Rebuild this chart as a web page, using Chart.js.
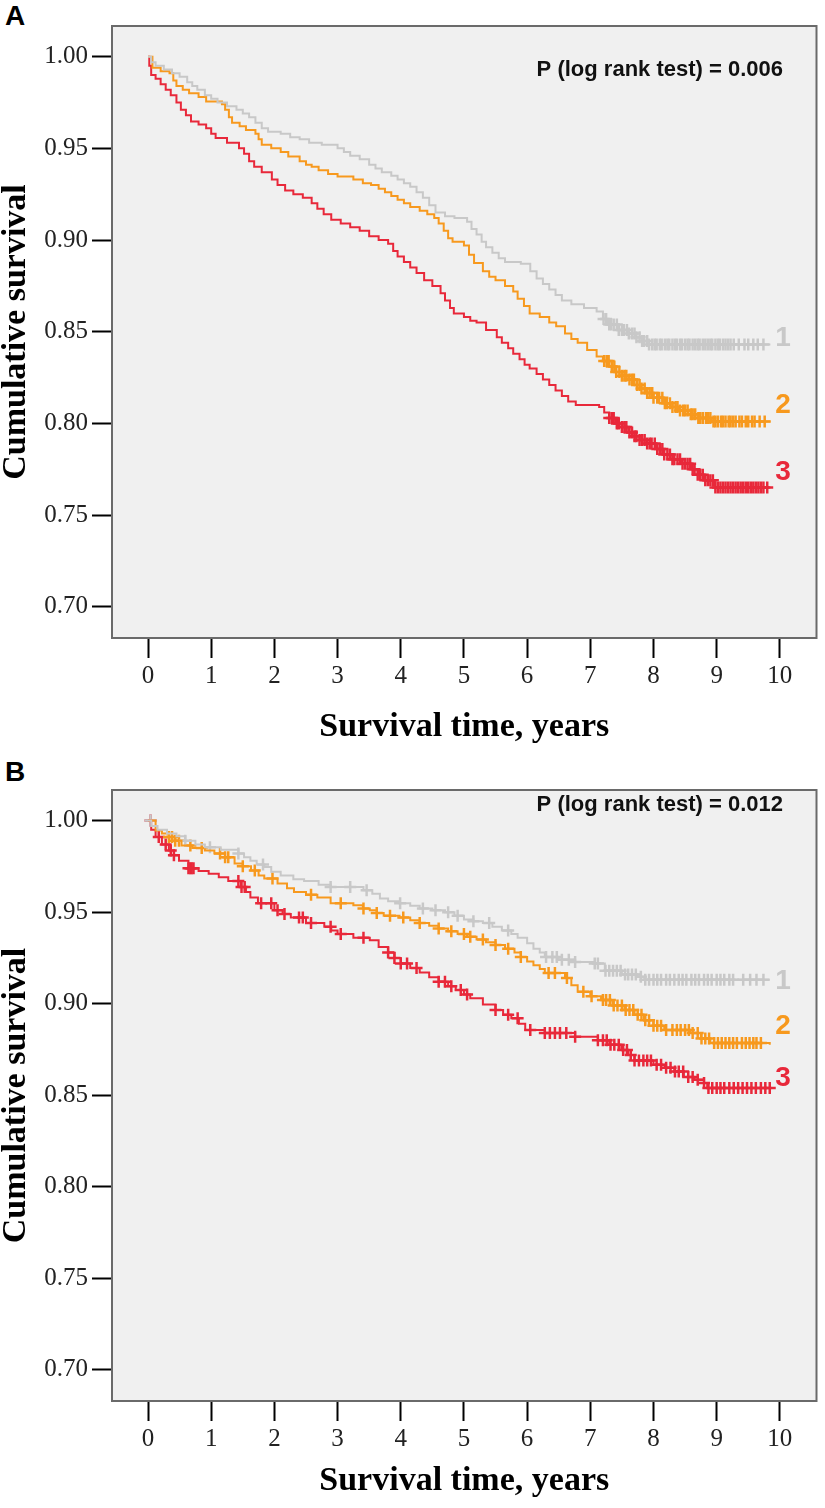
<!DOCTYPE html>
<html>
<head>
<meta charset="utf-8">
<script src="https://cdn.jsdelivr.net/npm/chart.js@4"></script>
<style>
  body { margin: 0; background: #fff; width: 825px; height: 1508px; position: relative; overflow: hidden; }
  .panel { position: absolute; left: 0; }
  .letter { position: absolute; left: 5px; font: bold 28px "Liberation Sans", Arial, sans-serif; color: #000; line-height: 32px; }
</style>
</head>
<body>
<div class="letter" style="top:0px">A</div>
<div class="letter" style="top:756px">B</div>
<div class="panel" style="top:0"><canvas id="chartA" width="825" height="754"></canvas></div>
<div class="panel" style="top:764px"><canvas id="chartB" width="825" height="744"></canvas></div>
<script>
const xTicks = [0, 1, 2, 3, 4, 5, 6, 7, 8, 9, 10];
const yTicks = [0.70, 0.75, 0.80, 0.85, 0.90, 0.95, 1.00];
const groupColors = ["#c8c8c8", "#f7991e", "#e8283a"];
const groupNames = ["1", "2", "3"];

// panel A - survival curves
const timeA1 = [0, 0.05, 0.12, 0.25, 0.38, 0.5, 0.62, 0.7, 0.78, 0.9, 1.0, 1.1, 1.25, 1.4, 1.5, 1.6, 1.7, 1.8, 1.9, 2.1, 2.25, 2.4, 2.55, 2.75, 3.0, 3.1, 3.2, 3.35, 3.5, 3.6, 3.7, 3.85, 3.95, 4.05, 4.15, 4.25, 4.35, 4.45, 4.55, 4.7, 4.85, 5.05, 5.12, 5.2, 5.28, 5.35, 5.45, 5.55, 5.65, 5.9, 6.05, 6.15, 6.25, 6.35, 6.45, 6.55, 6.7, 6.9, 7.1, 7.2, 7.28, 7.45, 7.6, 7.72, 7.82, 7.92, 9.85];
const survA1 = [1.0, 0.997, 0.995, 0.993, 0.991, 0.989, 0.986, 0.984, 0.982, 0.979, 0.977, 0.975, 0.973, 0.971, 0.969, 0.967, 0.964, 0.961, 0.959, 0.958, 0.956, 0.955, 0.953, 0.952, 0.950, 0.948, 0.946, 0.944, 0.941, 0.939, 0.937, 0.935, 0.933, 0.931, 0.929, 0.926, 0.923, 0.919, 0.915, 0.913, 0.912, 0.910, 0.906, 0.903, 0.899, 0.896, 0.893, 0.890, 0.888, 0.887, 0.883, 0.879, 0.876, 0.873, 0.870, 0.867, 0.865, 0.863, 0.861, 0.857, 0.854, 0.851, 0.849, 0.847, 0.845, 0.843, 0.843];
const timeA2 = [0, 0.07, 0.2, 0.34, 0.4, 0.45, 0.55, 0.65, 0.8, 0.92, 1.17, 1.22, 1.28, 1.33, 1.45, 1.55, 1.7, 1.75, 1.8, 1.95, 2.1, 2.22, 2.4, 2.5, 2.59, 2.7, 2.85, 3.0, 3.25, 3.4, 3.53, 3.65, 3.75, 3.85, 3.95, 4.05, 4.15, 4.3, 4.42, 4.53, 4.6, 4.68, 4.75, 4.82, 5.0, 5.08, 5.16, 5.3, 5.4, 5.5, 5.65, 5.78, 5.85, 5.95, 6.04, 6.2, 6.35, 6.46, 6.6, 6.7, 6.8, 6.95, 7.1, 7.2, 7.3, 7.4, 7.5, 7.6, 7.7, 7.8, 7.87, 8.0, 8.15, 8.3, 8.4, 8.55, 8.7, 8.92, 9.85];
const survA2 = [1.0, 0.994, 0.992, 0.991, 0.987, 0.984, 0.982, 0.980, 0.978, 0.9755, 0.974, 0.971, 0.967, 0.964, 0.962, 0.960, 0.958, 0.955, 0.952, 0.950, 0.948, 0.9455, 0.943, 0.941, 0.940, 0.938, 0.936, 0.9346, 0.933, 0.931, 0.930, 0.928, 0.926, 0.924, 0.922, 0.920, 0.918, 0.916, 0.914, 0.912, 0.909, 0.905, 0.901, 0.899, 0.897, 0.892, 0.8875, 0.883, 0.880, 0.878, 0.875, 0.872, 0.868, 0.864, 0.860, 0.858, 0.855, 0.853, 0.849, 0.846, 0.844, 0.840, 0.8365, 0.834, 0.831, 0.828, 0.826, 0.824, 0.821, 0.819, 0.8166, 0.814, 0.811, 0.809, 0.807, 0.805, 0.803, 0.801, 0.801];
const timeA3 = [0, 0.02, 0.05, 0.12, 0.2, 0.28, 0.36, 0.45, 0.52, 0.6, 0.68, 0.8, 0.92, 1.0, 1.07, 1.25, 1.44, 1.52, 1.6, 1.68, 1.8, 1.96, 2.05, 2.17, 2.3, 2.45, 2.59, 2.68, 2.78, 2.9, 3.05, 3.2, 3.35, 3.5, 3.65, 3.8, 3.88, 3.95, 4.05, 4.15, 4.25, 4.37, 4.5, 4.63, 4.7, 4.78, 4.84, 5.0, 5.1, 5.2, 5.35, 5.52, 5.6, 5.7, 5.78, 5.88, 5.96, 6.04, 6.15, 6.25, 6.35, 6.45, 6.55, 6.65, 6.77, 7.14, 7.22, 7.3, 7.4, 7.5, 7.6, 7.67, 7.78, 7.9, 8.03, 8.15, 8.3, 8.45, 8.6, 8.7, 8.8, 8.97, 9.85];
const survA3 = [1.0, 0.995, 0.990, 0.988, 0.985, 0.982, 0.979, 0.975, 0.971, 0.968, 0.9646, 0.963, 0.961, 0.958, 0.9556, 0.953, 0.950, 0.947, 0.943, 0.940, 0.937, 0.933, 0.930, 0.927, 0.925, 0.923, 0.920, 0.917, 0.914, 0.911, 0.909, 0.907, 0.905, 0.902, 0.900, 0.898, 0.894, 0.891, 0.888, 0.885, 0.882, 0.878, 0.875, 0.871, 0.867, 0.863, 0.860, 0.858, 0.856, 0.855, 0.851, 0.847, 0.844, 0.841, 0.838, 0.835, 0.832, 0.830, 0.827, 0.824, 0.821, 0.818, 0.815, 0.812, 0.810, 0.809, 0.806, 0.803, 0.800, 0.798, 0.795, 0.793, 0.791, 0.789, 0.786, 0.783, 0.7805, 0.778, 0.775, 0.772, 0.769, 0.765, 0.765];

// panel A - censored times
const censA1 = [7.21, 7.25, 7.3, 7.33, 7.37, 7.42, 7.45, 7.5, 7.53, 7.58, 7.61, 7.66, 7.7, 7.73, 7.78, 7.82, 7.85, 7.9, 7.93, 7.98, 8.02, 8.05, 8.1, 8.13, 8.18, 8.22, 8.25, 8.3, 8.34, 8.37, 8.42, 8.45, 8.5, 8.54, 8.57, 8.62, 8.66, 8.7, 8.73, 8.78, 8.82, 8.86, 8.9, 8.93, 8.98, 9.02, 9.05, 9.1, 9.14, 9.18, 9.22, 9.27, 9.35, 9.44, 9.5, 9.58, 9.65, 9.74];
const censA2 = [7.22, 7.26, 7.29, 7.34, 7.38, 7.41, 7.46, 7.5, 7.54, 7.57, 7.62, 7.66, 7.69, 7.74, 7.78, 7.81, 7.86, 7.9, 7.94, 7.98, 8.0, 8.06, 8.09, 8.14, 8.18, 8.21, 8.26, 8.3, 8.35, 8.38, 8.42, 8.47, 8.5, 8.54, 8.59, 8.62, 8.66, 8.71, 8.74, 8.78, 8.83, 8.86, 8.9, 8.95, 8.98, 9.02, 9.07, 9.1, 9.14, 9.19, 9.22, 9.26, 9.3, 9.36, 9.4, 9.46, 9.5, 9.56, 9.6, 9.68, 9.76];
const censA3 = [7.3, 7.34, 7.37, 7.42, 7.45, 7.5, 7.54, 7.57, 7.62, 7.66, 7.7, 7.73, 7.78, 7.82, 7.86, 7.9, 7.94, 7.97, 8.02, 8.06, 8.1, 8.14, 8.17, 8.22, 8.26, 8.3, 8.33, 8.38, 8.42, 8.46, 8.5, 8.54, 8.58, 8.62, 8.65, 8.7, 8.74, 8.78, 8.82, 8.86, 8.9, 8.94, 8.98, 9.02, 9.06, 9.1, 9.14, 9.18, 9.22, 9.26, 9.3, 9.34, 9.38, 9.42, 9.46, 9.5, 9.54, 9.58, 9.62, 9.66, 9.7, 9.74, 9.8];

// panel B - survival curves
const timeB1 = [0, 0.05, 0.15, 0.3, 0.45, 0.59, 0.75, 0.9, 1.15, 1.43, 1.52, 1.62, 1.72, 1.84, 1.95, 2.1, 2.3, 2.47, 2.7, 2.89, 3.41, 3.55, 3.67, 3.8, 3.98, 4.15, 4.3, 4.5, 4.7, 4.85, 5.0, 5.15, 5.3, 5.45, 5.6, 5.75, 5.85, 6.0, 6.1, 6.2, 6.28, 6.5, 6.76, 7.07, 7.23, 7.5, 7.8, 7.86, 9.84];
const survB1 = [1.0, 0.997, 0.995, 0.993, 0.9915, 0.989, 0.987, 0.9855, 0.984, 0.982, 0.980, 0.978, 0.976, 0.9746, 0.972, 0.970, 0.968, 0.967, 0.965, 0.9637, 0.962, 0.960, 0.9575, 0.956, 0.9548, 0.9535, 0.952, 0.951, 0.950, 0.948, 0.946, 0.945, 0.944, 0.942, 0.940, 0.938, 0.936, 0.933, 0.930, 0.928, 0.9255, 0.924, 0.9228, 0.922, 0.918, 0.916, 0.9147, 0.913, 0.913];
const timeB2 = [0, 0.12, 0.22, 0.33, 0.43, 0.53, 0.7, 0.9, 1.05, 1.22, 1.37, 1.5, 1.63, 1.75, 1.84, 2.05, 2.2, 2.31, 2.5, 2.68, 2.89, 3.25, 3.4, 3.51, 3.62, 3.73, 3.98, 4.15, 4.3, 4.45, 4.6, 4.75, 4.9, 5.05, 5.2, 5.35, 5.5, 5.65, 5.8, 5.9, 6.0, 6.1, 6.2, 6.28, 6.6, 6.7, 6.8, 7.0, 7.17, 7.35, 7.54, 7.7, 7.85, 8.0, 8.17, 8.58, 8.75, 8.9, 9.84];
const survB2 = [1.0, 0.9946, 0.993, 0.991, 0.989, 0.9864, 0.985, 0.9837, 0.982, 0.980, 0.9766, 0.975, 0.9728, 0.970, 0.9684, 0.9657, 0.963, 0.961, 0.9595, 0.958, 0.9548, 0.9537, 0.952, 0.951, 0.9495, 0.948, 0.947, 0.9455, 0.944, 0.9425, 0.941, 0.9395, 0.938, 0.9365, 0.935, 0.9335, 0.932, 0.930, 0.928, 0.9255, 0.923, 0.921, 0.919, 0.9167, 0.914, 0.910, 0.9065, 0.904, 0.902, 0.899, 0.8965, 0.894, 0.891, 0.888, 0.8856, 0.884, 0.881, 0.8785, 0.8775];
const timeB3 = [0, 0.05, 0.12, 0.22, 0.33, 0.41, 0.49, 0.64, 0.8, 0.96, 1.12, 1.27, 1.47, 1.55, 1.62, 1.74, 2.0, 2.13, 2.26, 2.5, 2.79, 2.9, 3.0, 3.25, 3.51, 3.65, 3.8, 3.9, 4.0, 4.15, 4.3, 4.45, 4.6, 4.75, 4.87, 5.0, 5.1, 5.3, 5.5, 5.62, 5.75, 5.87, 5.97, 6.28, 6.76, 7.12, 7.3, 7.49, 7.6, 7.7, 8.0, 8.18, 8.33, 8.48, 8.65, 8.8, 8.85, 9.84];
const survB3 = [1.0, 0.995, 0.991, 0.987, 0.9837, 0.981, 0.978, 0.974, 0.9725, 0.971, 0.969, 0.967, 0.9637, 0.961, 0.958, 0.9548, 0.951, 0.949, 0.947, 0.944, 0.942, 0.940, 0.938, 0.936, 0.9346, 0.931, 0.928, 0.925, 0.922, 0.9195, 0.917, 0.9145, 0.912, 0.9095, 0.9075, 0.905, 0.903, 0.8995, 0.8965, 0.894, 0.892, 0.889, 0.8856, 0.884, 0.882, 0.880, 0.8775, 0.8747, 0.872, 0.869, 0.8666, 0.865, 0.863, 0.860, 0.8585, 0.8567, 0.854, 0.854];

// panel B - censored times
const censB1 = [0.04, 0.59, 0.98, 1.43, 1.82, 2.89, 3.2, 3.46, 3.99, 4.35, 4.55, 4.75, 4.9, 5.15, 5.4, 5.7, 6.3, 6.4, 6.47, 6.55, 6.66, 6.76, 7.07, 7.12, 7.24, 7.3, 7.36, 7.42, 7.48, 7.55, 7.6, 7.66, 7.72, 7.8, 7.87, 7.93, 8.0, 8.06, 8.12, 8.2, 8.26, 8.33, 8.4, 8.46, 8.52, 8.6, 8.66, 8.72, 8.8, 8.86, 8.92, 9.0, 9.06, 9.12, 9.2, 9.26, 9.42, 9.53, 9.63, 9.74];
const censB2 = [0.33, 0.38, 0.43, 0.49, 0.67, 0.85, 1.14, 1.22, 1.27, 1.5, 1.69, 1.97, 2.58, 3.05, 3.41, 3.62, 3.83, 4.04, 4.3, 4.6, 4.8, 5.0, 5.1, 5.3, 5.5, 5.7, 5.9, 6.34, 6.44, 6.63, 6.89, 7.02, 7.2, 7.25, 7.31, 7.37, 7.43, 7.5, 7.56, 7.62, 7.68, 7.75, 7.81, 7.87, 7.93, 8.0, 8.06, 8.12, 8.2, 8.3, 8.37, 8.43, 8.5, 8.56, 8.62, 8.7, 8.76, 8.82, 8.88, 8.96, 9.02, 9.08, 9.14, 9.2, 9.26, 9.32, 9.4, 9.46, 9.52, 9.58, 9.63, 9.7];
const censB3 = [0.04, 0.17, 0.28, 0.36, 0.41, 0.64, 0.67, 0.69, 0.72, 1.43, 1.48, 1.53, 1.79, 1.95, 2.05, 2.16, 2.39, 2.45, 2.58, 2.89, 3.05, 3.41, 3.8, 3.9, 4.0, 4.1, 4.25, 4.6, 4.7, 4.8, 4.95, 5.05, 5.5, 5.7, 5.85, 6.05, 6.28, 6.36, 6.44, 6.52, 6.62, 6.76, 7.12, 7.2, 7.26, 7.32, 7.38, 7.45, 7.52, 7.58, 7.64, 7.7, 7.77, 7.84, 7.9, 7.96, 8.05, 8.12, 8.2, 8.27, 8.34, 8.4, 8.47, 8.55, 8.62, 8.7, 8.8, 8.87, 8.93, 9.0, 9.06, 9.12, 9.2, 9.27, 9.34, 9.41, 9.48, 9.55, 9.62, 9.7, 9.77, 9.84];

const pTextA = "P (log rank test) = 0.006";
const pTextB = "P (log rank test) = 0.012";

const serif = "'Liberation Serif', 'Times New Roman', serif";

function stepValue(times, surv, t) {
  let v = surv[0];
  for (let i = 0; i < times.length; i++) {
    if (times[i] <= t) v = surv[i];
  }
  return v;
}

const panelPlugin = {
  id: "panel",
  beforeDraw(chart) {
    const { ctx, chartArea: a } = chart;
    ctx.save();
    ctx.fillStyle = "#f0f0f0";
    ctx.fillRect(a.left, a.top, a.right - a.left, a.bottom - a.top);
    ctx.restore();
  },
  afterDraw(chart) {
    const { ctx, chartArea: a, scales } = chart;
    const opts = chart.options.plugins.panel;
    ctx.save();
    ctx.strokeStyle = "#6a6a6a";
    ctx.lineWidth = 2;
    ctx.strokeRect(a.left, a.top, a.right - a.left, a.bottom - a.top);
    // p value text
    ctx.fillStyle = "#111";
    ctx.font = "bold 22px 'Liberation Sans', Arial, sans-serif";
    ctx.textAlign = "center";
    ctx.textBaseline = "middle";
    ctx.fillText(opts.pText, scales.x.getPixelForValue(8.1), scales.y.getPixelForValue(opts.pValueY));
    // group labels at line ends
    ctx.font = "bold 28px 'Liberation Sans', Arial, sans-serif";
    opts.labelY.forEach((v, i) => {
      ctx.fillStyle = groupColors[i];
      ctx.fillText(groupNames[i], scales.x.getPixelForValue(10.05), scales.y.getPixelForValue(v));
    });
    ctx.restore();
  },
};

function makePanel(canvasId, curves, censored, pText, pValueY, labelY, xAxisHeight) {
  const datasets = [];
  curves.forEach(([times, surv], i) => {
    datasets.push({
      data: times.map((t, j) => ({ x: t, y: surv[j] })),
      borderColor: groupColors[i],
      borderWidth: 2,
      stepped: true,
      pointRadius: 0,
      fill: false,
    });
  });
  censored.forEach((cens, i) => {
    const [times, surv] = curves[i];
    datasets.push({
      data: cens.map((t) => ({ x: t, y: stepValue(times, surv, t) })),
      showLine: false,
      pointStyle: "cross",
      pointRadius: 6,
      pointBorderWidth: 2.5,
      pointBorderColor: groupColors[i],
      borderColor: groupColors[i],
    });
  });

  return new Chart(document.getElementById(canvasId), {
    type: "line",
    data: { datasets },
    options: {
      responsive: false,
      animation: false,
      devicePixelRatio: 1,
      layout: { padding: { top: 26, right: 3, left: 0, bottom: 0 } },
      plugins: {
        legend: { display: false },
        tooltip: { enabled: false },
        panel: { pText, pValueY, labelY },
      },
      scales: {
        x: {
          type: "linear",
          min: -0.57,
          max: 10.58,
          afterBuildTicks: (scale) => {
            scale.ticks = xTicks.map((v) => ({ value: v }));
          },
          afterFit: (scale) => {
            scale.height = xAxisHeight;
          },
          grid: { drawOnChartArea: false, tickLength: 20, tickWidth: 2, tickColor: "#000" },
          border: { display: false },
          ticks: {
            color: "#222",
            padding: 3,
            maxRotation: 0,
            font: { family: serif, size: 25 },
            callback: (v) => String(v),
          },
          title: {
            display: true,
            text: "Survival time, years",
            color: "#000",
            padding: { top: 0, bottom: 6 },
            font: { family: serif, size: 34, weight: "bold" },
          },
        },
        y: {
          type: "linear",
          min: 0.683,
          max: 1.0167,
          afterBuildTicks: (scale) => {
            scale.ticks = yTicks.map((v) => ({ value: v }));
          },
          afterFit: (scale) => {
            scale.width = 112;
          },
          grid: { drawOnChartArea: false, tickLength: 20, tickWidth: 2, tickColor: "#000" },
          border: { display: false },
          ticks: {
            color: "#222",
            padding: 4,
            font: { family: serif, size: 25 },
            callback: (v) => Number(v).toFixed(2),
          },
          title: {
            display: true,
            text: "Cumulative survival",
            color: "#000",
            padding: { top: -4, bottom: 0 },
            font: { family: serif, size: 34, weight: "bold" },
          },
        },
      },
    },
    plugins: [panelPlugin],
  });
}

makePanel(
  "chartA",
  [[timeA1, survA1], [timeA2, survA2], [timeA3, survA3]],
  [censA1, censA2, censA3],
  pTextA,
  0.9927,
  [0.8466, 0.810, 0.7736],
  116
);

makePanel(
  "chartB",
  [[timeB1, survB1], [timeB2, survB2], [timeB3, survB3]],
  [censB1, censB2, censB3],
  pTextB,
  1.0085,
  [0.9125, 0.8874, 0.8595],
  107
);
</script>
</body>
</html>
